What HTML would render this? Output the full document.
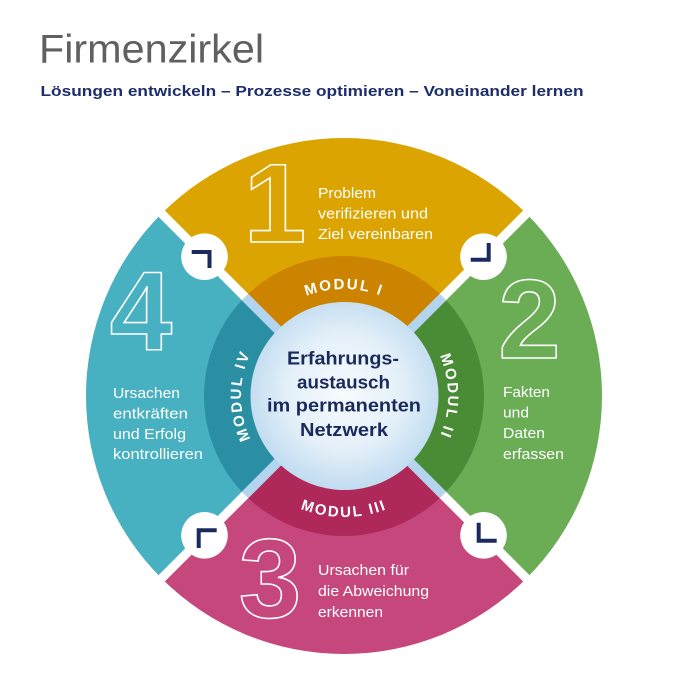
<!DOCTYPE html>
<html>
<head>
<meta charset="utf-8">
<style>
html,body{margin:0;padding:0;background:#fff;}
svg{display:block;}
text{font-family:"Liberation Sans",sans-serif;}
</style>
</head>
<body>
<svg width="688" height="688" viewBox="0 0 688 688" xmlns="http://www.w3.org/2000/svg">
  <defs>
    <radialGradient id="ig" cx="50%" cy="48%" r="55%">
      <stop offset="0" stop-color="#f7fbfe"/>
      <stop offset="0.55" stop-color="#e4f0f9"/>
      <stop offset="1" stop-color="#bcd9ef"/>
    </radialGradient>
    <clipPath id="mc"><circle cx="344" cy="396" r="140"/></clipPath>
    <path id="p1" d="M237,396 A107,107 0 0 1 451,396"/>
    <path id="p2" d="M344,292 A104,104 0 0 1 344,500"/>
    <path id="p3" d="M223,396 A121,121 0 0 0 465,396"/>
    <path id="p4" d="M344,499 A103,103 0 0 1 344,293"/>
  </defs>

  <!-- Title -->
  <text x="39" y="62.5" font-size="40" fill="#606060" textLength="225" lengthAdjust="spacingAndGlyphs">Firmenzirkel</text>
  <text x="40.5" y="96" font-size="15" font-weight="bold" fill="#1d2d69" textLength="543" lengthAdjust="spacingAndGlyphs">Lösungen entwickeln – Prozesse optimieren – Voneinander lernen</text>

  <!-- Outer sectors -->
  <path d="M344,396 L161.57,213.57 A258,258 0 0 1 526.43,213.57 Z" fill="#dca400"/>
  <path d="M344,396 L526.43,213.57 A258,258 0 0 1 526.43,578.43 Z" fill="#6bad55"/>
  <path d="M344,396 L526.43,578.43 A258,258 0 0 1 161.57,578.43 Z" fill="#c6477c"/>
  <path d="M344,396 L161.57,578.43 A258,258 0 0 1 161.57,213.57 Z" fill="#47b0c1"/>

  <!-- Middle ring sectors -->
  <path d="M344,396 L245.01,297.01 A140,140 0 0 1 442.99,297.01 Z" fill="#cc8400"/>
  <path d="M344,396 L442.99,297.01 A140,140 0 0 1 442.99,494.99 Z" fill="#4a8b36"/>
  <path d="M344,396 L442.99,494.99 A140,140 0 0 1 245.01,494.99 Z" fill="#ae2859"/>
  <path d="M344,396 L245.01,494.99 A140,140 0 0 1 245.01,297.01 Z" fill="#2b8fa4"/>

  <!-- White diagonal gaps -->
  <line x1="140" y1="192" x2="548" y2="600" stroke="#fff" stroke-width="9"/>
  <line x1="548" y1="192" x2="140" y2="600" stroke="#fff" stroke-width="9"/>
  <!-- Light blue gaps in middle ring -->
  <g clip-path="url(#mc)">
    <line x1="140" y1="192" x2="548" y2="600" stroke="#b3d4ee" stroke-width="9"/>
    <line x1="548" y1="192" x2="140" y2="600" stroke="#b3d4ee" stroke-width="9"/>
  </g>

  <!-- Inner circle -->
  <circle cx="344.5" cy="396" r="94" fill="url(#ig)"/>

  <!-- Center text -->
  <g font-size="18.5" font-weight="bold" fill="#1b2a5c">
    <text x="287" y="364.5" textLength="112" lengthAdjust="spacingAndGlyphs">Erfahrungs-</text>
    <text x="297" y="388.5" textLength="93" lengthAdjust="spacingAndGlyphs">austausch</text>
    <text x="267" y="411.5" textLength="154" lengthAdjust="spacingAndGlyphs">im permanenten</text>
    <text x="300" y="436" textLength="88" lengthAdjust="spacingAndGlyphs">Netzwerk</text>
  </g>

  <!-- Modul labels -->
  <g font-size="15" font-weight="bold" fill="#fff" letter-spacing="2">
    <text><textPath href="#p1" startOffset="50%" text-anchor="middle">MODUL I</textPath></text>
    <text><textPath href="#p2" startOffset="50%" text-anchor="middle">MODUL II</textPath></text>
    <text><textPath href="#p3" startOffset="50%" text-anchor="middle">MODUL III</textPath></text>
    <text><textPath href="#p4" startOffset="50%" text-anchor="middle">MODUL IV</textPath></text>
  </g>

  <!-- Big outlined numerals -->
  <g font-size="112" font-weight="bold" fill="none" stroke="#fff" stroke-width="1.6" text-anchor="middle">
    <text x="275" y="242">1</text>
    <text x="529.5" y="358">2</text>
    <text x="270" y="617">3</text>
    <text x="141" y="350">4</text>
  </g>

  <!-- Sector descriptions -->
  <g font-size="14.5" fill="#fff">
    <text x="318" y="198" textLength="58" lengthAdjust="spacingAndGlyphs">Problem</text>
    <text x="318" y="218.5" textLength="110" lengthAdjust="spacingAndGlyphs">verifizieren und</text>
    <text x="318" y="239" textLength="115" lengthAdjust="spacingAndGlyphs">Ziel vereinbaren</text>

    <text x="503" y="397" textLength="47" lengthAdjust="spacingAndGlyphs">Fakten</text>
    <text x="503" y="417.5" textLength="26" lengthAdjust="spacingAndGlyphs">und</text>
    <text x="503" y="438" textLength="42" lengthAdjust="spacingAndGlyphs">Daten</text>
    <text x="503" y="459" textLength="61" lengthAdjust="spacingAndGlyphs">erfassen</text>

    <text x="318" y="575" textLength="91" lengthAdjust="spacingAndGlyphs">Ursachen für</text>
    <text x="318" y="596" textLength="111" lengthAdjust="spacingAndGlyphs">die Abweichung</text>
    <text x="318" y="617" textLength="65" lengthAdjust="spacingAndGlyphs">erkennen</text>

    <text x="113" y="398" textLength="67" lengthAdjust="spacingAndGlyphs">Ursachen</text>
    <text x="113" y="418.5" textLength="75" lengthAdjust="spacingAndGlyphs">entkräften</text>
    <text x="113" y="439" textLength="73" lengthAdjust="spacingAndGlyphs">und Erfolg</text>
    <text x="113" y="459" textLength="90" lengthAdjust="spacingAndGlyphs">kontrollieren</text>
  </g>

  <!-- Corner circles with icons -->
  <g fill="#fff">
    <circle cx="204.5" cy="256.7" r="23.3"/>
    <circle cx="483.5" cy="256.7" r="23.3"/>
    <circle cx="204.5" cy="535.3" r="23.3"/>
    <circle cx="483.5" cy="535.3" r="23.3"/>
  </g>
  <g fill="none" stroke="#1b2a5e" stroke-width="4" stroke-linejoin="miter">
    <polyline points="191.7,252 209.5,252 209.5,268"/>
    <polyline points="488.7,243 488.7,259.7 470.7,259.7"/>
    <polyline points="216.7,530.3 198.7,530.3 198.7,548"/>
    <polyline points="478.7,522.7 478.7,540.7 496.7,540.7"/>
  </g>
</svg>
</body>
</html>
